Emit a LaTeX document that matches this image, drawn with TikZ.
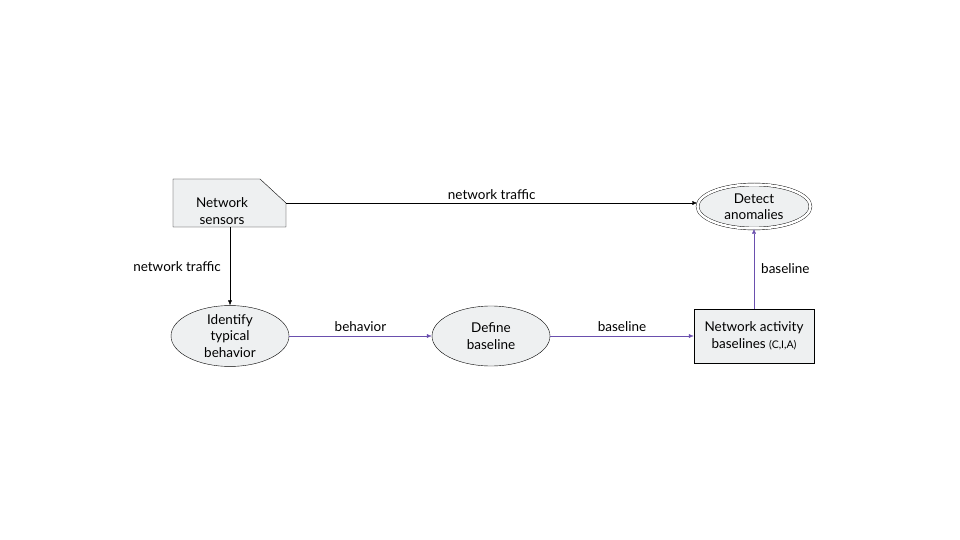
\documentclass[tikz,border=0pt]{standalone}
\usepackage{fontspec}
\setmainfont{Lato}
\usetikzlibrary{shapes.geometric,arrows.meta}
\definecolor{boxfill}{HTML}{EEF0F1}
\definecolor{purp}{HTML}{6A4FAE}
\begin{document}
\begin{tikzpicture}[x=1pt,y=-1pt,
  every node/.style={font=\fontsize{13.5}{16.5}\selectfont},
  ell/.style={ellipse,draw,fill=boxfill,minimum width=118pt,minimum height=60pt,inner sep=0pt,align=center},
  rbox/.style={rectangle,draw,fill=boxfill,minimum width=120pt,minimum height=54pt,align=center,inner sep=0pt},
  blk/.style={-{Latex[length=5pt,width=4pt]},black},
  prp/.style={-{Latex[length=5pt,width=4pt]},purp},
  lbl/.style={font=\fontsize{13.5}{16.5}\selectfont,inner sep=1pt,text=black}]
\useasboundingbox (0,0) rectangle (960,540);
% Network sensors shape
\path[draw,fill=boxfill] (173,179) -- (260,179) -- (286,203) -- (286,227) -- (173,227) -- cycle;
\node[align=center] (sens) at (222,211) {Network\\sensors};
\coordinate (sensR) at (286,203);
\coordinate (sensB) at (230,227);
% Detect anomalies double ellipse
\node[ellipse,draw,fill=boxfill,minimum width=113pt,minimum height=44pt,double,double distance=2.5pt,inner sep=0pt,align=center] (det) at (754,206.5) {Detect\\anomalies};
\node[ell] (ident) at (230,336) {Identify\\typical\\behavior};
\node[ell] (defn) at (491,336) {Define\\baseline};
\node[rbox] (nab) at (754,336) {Network activity\\baselines {\fontsize{10.5}{12}\selectfont(C,I,A)}};
% connectors
\draw[blk] (sensR) -- (det.west |- sensR) node[lbl,midway,above=2pt] {network traffic};
\draw[blk] (sensB) -- (ident.north) node[lbl,midway,left=8pt] {network traffic};
\draw[prp] (ident.east) -- (defn.west) node[lbl,midway,above=3pt] {behavior};
\draw[prp] (defn.east) -- (nab.west) node[lbl,midway,above=3pt] {baseline};
\draw[prp] (nab.north) -- (det.south) node[lbl,midway,right=6pt] {baseline};
\end{tikzpicture}
\end{document}
